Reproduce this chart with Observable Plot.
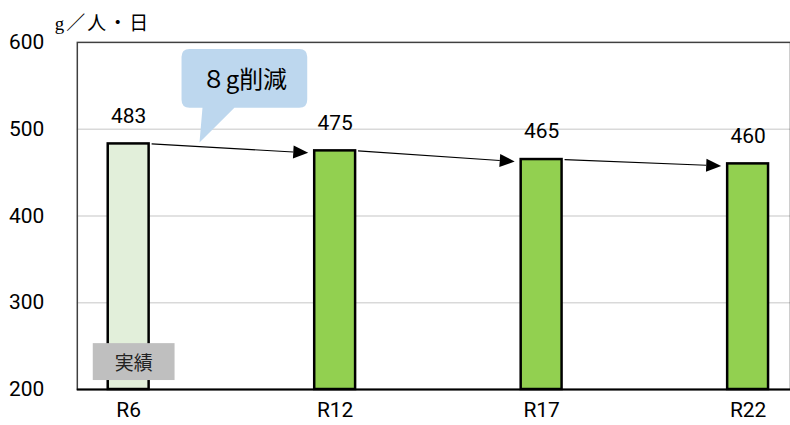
<!DOCTYPE html>
<html><head><meta charset="utf-8">
<script src="https://cdn.jsdelivr.net/npm/d3@7"></script>
<script src="https://cdn.jsdelivr.net/npm/@observablehq/plot@0.6"></script>
<style>
html,body{margin:0;padding:0;background:#fff;overflow:hidden;}
#chart{width:790px;height:425px;overflow:hidden;position:relative;}
</style></head><body><div id="chart"></div>
<script>
// ---- data ----
const years = ["R6", "R12", "R17", "R22"];
const values = [483, 475, 465, 460];
const kinds = ["実績", "目標", "目標", "目標"];
const yTicks = [200, 300, 400, 500, 600];
const gridTicks = [300, 400, 500];
const unitLabel = "g／人・日";
const calloutText = "８g削減";
const actualLabel = "実績";

const data = years.map((y, i) => ({year: y, value: values[i], kind: kinds[i]}));
const font = "Roboto, 'Liberation Sans', sans-serif";
const jp = "'Noto Sans CJK JP', sans-serif";

const plot = Plot.plot({
  width: 792, height: 425,
  marginLeft: 77, marginRight: 0, marginTop: 42, marginBottom: 35,
  style: {fontFamily: font, fontSize: "21px", color: "#000", background: "#fff", overflow: "visible"},
  x: {domain: years, range: [24.2, 854.8], paddingInner: 0.8, paddingOuter: 0.4, label: null},
  y: {domain: [200, 600], label: null},
  color: {domain: ["実績", "目標"], range: ["#e2efda", "#92d050"]},
  marks: [
    Plot.gridY(gridTicks, {stroke: "#d9d9d9", strokeOpacity: 1, strokeWidth: 1.5}),
    Plot.frame({stroke: "#404040", strokeWidth: 1.5}),
    Plot.barY(data, {x: "year", y1: 200, y2: "value", fill: "kind", stroke: "#000", strokeWidth: 2.5}),
    Plot.ruleY([200], {stroke: "#000", strokeWidth: 2}),
    Plot.axisY({ticks: yTicks, tickSize: 0, tickPadding: 33, fontSize: 21}),
    Plot.axisX({tickSize: 0, tickPadding: 13, fontSize: 21}),
    Plot.text(data, {x: "year", y: "value", text: d => String(d.value), dy: -28, fontSize: 21})
  ]
});
document.getElementById("chart").appendChild(plot);

// ---- annotations positioned through the plot's own scales ----
(function () {
  const xs = plot.scale("x"), ys = plot.scale("y");
  const bw = xs.bandwidth;
  const left = i => xs.apply(years[i]);
  const svg = d3.select(plot);
  const g = svg.append("g").attr("text-anchor", "start");

  // arrows between bars
  for (let i = 0; i < years.length - 1; i++) {
    const x1 = left(i) + bw + 3, y1 = ys.apply(values[i]) + 0.5;
    const x2 = left(i + 1) - 6, y2 = ys.apply(values[i + 1]) + 2.5;
    const dx = x2 - x1, dy = y2 - y1, L = Math.hypot(dx, dy);
    const ux = dx / L, uy = dy / L, hl = 15, hw = 6.5;
    const bx = x2 - ux * hl, by = y2 - uy * hl;
    g.append("line").attr("x1", x1).attr("y1", y1).attr("x2", bx).attr("y2", by)
      .attr("stroke", "#000").attr("stroke-width", 1.2);
    g.append("path")
      .attr("d", `M${x2},${y2}L${bx - uy * hw},${by + ux * hw}L${bx + uy * hw},${by - ux * hw}Z`)
      .attr("fill", "#000");
  }

  // callout bubble
  const yTop = ys.apply(600);
  const tipX = left(0) + bw + 51, tipY = ys.apply(values[0]) - 1;
  const rx0 = tipX - 18, rx1 = rx0 + 126, ry0 = yTop + 7, ry1 = ry0 + 59, r = 8;
  const bubble = `M${rx0 + r},${ry0}H${rx1 - r}Q${rx1},${ry0} ${rx1},${ry0 + r}V${ry1 - r}Q${rx1},${ry1} ${rx1 - r},${ry1}` +
    `H${tipX + 35}L${tipX},${tipY}L${tipX + 3},${ry1}H${rx0 + r}Q${rx0},${ry1} ${rx0},${ry1 - r}V${ry0 + r}Q${rx0},${ry0} ${rx0 + r},${ry0}Z`;
  g.append("path").attr("d", bubble).attr("fill", "#bdd7ee");
  g.append("text").attr("x", (rx0 + rx1) / 2).attr("y", (ry0 + ry1) / 2 - 1)
    .attr("text-anchor", "middle").attr("dominant-baseline", "central")
    .attr("font-family", jp).attr("font-size", 24).attr("fill", "#000").text(calloutText);

  // 実績 label box
  const bx0 = left(0) - 15, by1 = ys.apply(200) - 9;
  g.append("rect").attr("x", bx0).attr("y", by1 - 37).attr("width", 82).attr("height", 37).attr("fill", "#bfbfbf");
  g.append("text").attr("x", bx0 + 41).attr("y", by1 - 18.5)
    .attr("text-anchor", "middle").attr("dominant-baseline", "central")
    .attr("font-family", jp).attr("font-size", 19).attr("fill", "#222").text(actualLabel);

  // unit label
  g.append("text").attr("x", 55).attr("y", yTop - 18)
    .attr("text-anchor", "start").attr("dominant-baseline", "central")
    .attr("font-family", "'Liberation Serif', 'Noto Sans CJK JP', serif").attr("font-size", 19)
    .attr("letter-spacing", 2)
    .attr("fill", "#000").text(unitLabel);
})();
</script></body></html>
